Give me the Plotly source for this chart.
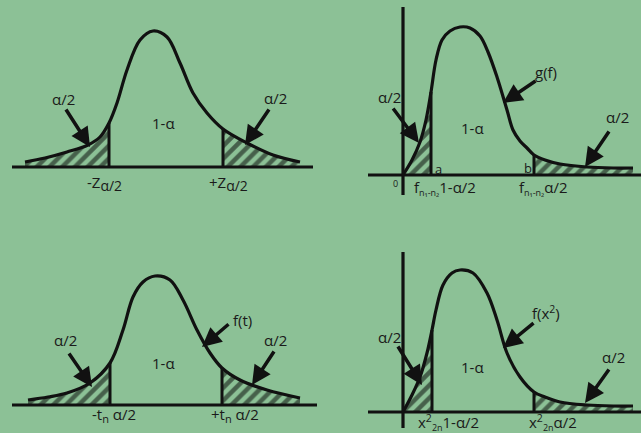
import plotly.graph_objects as go

BG = "#8cc196"
INK = "#111111"

# curves (x, y in picture units, y grows downward)
z_x = [25, 45, 67, 88, 100, 109, 117, 127, 140, 153, 167, 180, 193, 207, 223, 247, 273, 300]
z_y = [162, 158, 152, 145, 137, 123, 103, 70, 40, 31, 37, 63, 93, 113, 129, 143, 155, 162]
z_cut = [109, 223]
z_base = 167

t_x = [28, 48, 67, 90, 110, 123, 133, 143, 155, 170, 183, 197, 210, 222, 240, 267, 300]
t_y = [400, 397, 393, 383, 363, 330, 297, 282, 276, 280, 300, 330, 353, 368, 380, 390, 398]
t_cut = [110, 222]
t_base = 405

f_x = [403, 412, 420, 426, 431, 436, 442, 450, 460, 470, 480, 488, 497, 507, 513, 520, 527, 534, 545, 560, 587, 613, 633]
f_y = [175, 160, 142, 120, 92, 60, 40, 31, 27, 28, 36, 52, 77, 110, 130, 141, 148, 155, 160, 164, 167, 168, 168]
f_cut = [431, 534]
f_base = 175

c_x = [403, 412, 420, 427, 432, 436, 443, 452, 460, 473, 487, 497, 507, 520, 534, 545, 560, 587, 613, 633]
c_y = [412, 395, 377, 353, 330, 310, 285, 273, 270, 273, 293, 320, 353, 377, 392, 397, 402, 405, 406, 406]
c_cut = [432, 534]
c_base = 412

panels = [
    (z_x, z_y, z_cut, z_base, [12, 313], None),
    (t_x, t_y, t_cut, t_base, [12, 317], None),
    (f_x, f_y, f_cut, f_base, [368, 641], [7, 195]),
    (c_x, c_y, c_cut, c_base, [368, 641], [252, 428]),
]

fig = go.Figure()

for xs, ys, cut, base, bx, vy in panels:
    # hatched tails
    left = [(x, y) for x, y in zip(xs, ys) if x <= cut[0]]
    right = [(x, y) for x, y in zip(xs, ys) if x >= cut[1]]
    for pts in (left, right):
        px = [p[0] for p in pts]
        py = [p[1] for p in pts]
        fig.add_trace(go.Scatter(
            x=px + [px[-1], px[0], px[0]], y=py + [base, base, py[0]],
            mode="lines", line=dict(width=0), fill="toself", fillcolor=BG,
            fillpattern=dict(shape="/", fgcolor="#000000", bgcolor=BG, size=9, solidity=0.5),
            hoverinfo="skip", showlegend=False))
    # curve
    fig.add_trace(go.Scatter(x=xs, y=ys, mode="lines", line=dict(color=INK, width=3.2, shape="spline"),
                             hoverinfo="skip", showlegend=False))
    # cut lines
    for c in cut:
        cy = ys[xs.index(c)]
        fig.add_trace(go.Scatter(x=[c, c], y=[cy, base], mode="lines", line=dict(color=INK, width=3),
                                 hoverinfo="skip", showlegend=False))
    # baseline and vertical axis
    fig.add_trace(go.Scatter(x=bx, y=[base, base], mode="lines", line=dict(color=INK, width=3.2),
                             hoverinfo="skip", showlegend=False))
    if vy:
        fig.add_trace(go.Scatter(x=[xs[0], xs[0]], y=vy, mode="lines", line=dict(color=INK, width=3.2),
                                 hoverinfo="skip", showlegend=False))

# arrows: (head x, head y, tail x, tail y)
arrows = [
    (90, 147, 65, 108), (245, 145, 270, 108),
    (92, 387, 68, 352), (252, 385, 275, 350), (202, 347, 230, 323),
    (419, 143, 392, 107), (503, 103, 537, 80), (585, 167, 610, 130),
    (422, 385, 397, 345), (503, 348, 535, 322), (585, 403, 610, 368),
]
for hx, hy, tx, ty in arrows:
    fig.add_annotation(x=hx, y=hy, ax=tx, ay=ty, xref="x", yref="y", axref="x", ayref="y",
                       text="", showarrow=True, arrowhead=2, arrowsize=1.1, arrowwidth=3.5,
                       arrowcolor=INK)


def sub(s, size=13):
    return '<sub><span style="font-size:%dpx">%s</span></sub>' % (size, s)


# labels: (x, y, text, size)
labels = [
    (63, 99, "α/2", 15), (275, 98, "α/2", 15), (163, 123, "1-α", 15),
    (104, 183, "-Z" + sub("α/2", 14), 15), (228, 183, "+Z" + sub("α/2", 14), 15),
    (65, 340, "α/2", 15), (275, 340, "α/2", 15), (163, 363, "1-α", 15),
    (242, 320, "f(t)", 15),
    (114, 415, "-t" + sub("n", 11) + " α/2", 15), (235, 415, "+t" + sub("n", 11) + " α/2", 15),
    (389, 97, "α/2", 15), (546, 72, "g(f)", 15), (472, 128, "1-α", 15), (617, 117, "α/2", 15),
    (438, 169, "a", 13), (528, 168, "b", 13), (395, 183, "0", 9),
    (445, 188, "f" + sub("n₁-n₂", 9) + "1-α/2", 15), (543, 188, "f" + sub("n₁-n₂", 9) + "α/2", 15),
    (389, 337, "α/2", 15), (546, 312, "f(x<sup>2</sup>)", 15), (472, 367, "1-α", 15), (613, 357, "α/2", 15),
    (448, 422, "x<sup>2</sup>" + sub("2n", 9) + "1-α/2", 15), (553, 422, "x<sup>2</sup>" + sub("2n", 9) + "α/2", 15),
]
for x, y, s, size in labels:
    fig.add_annotation(x=x, y=y, xref="x", yref="y", text=s, showarrow=False,
                       font=dict(family="Open Sans", size=size, color="#1a1a1a"))

fig.update_xaxes(range=[0, 641], visible=False, fixedrange=True)
fig.update_yaxes(range=[433, 0], visible=False, fixedrange=True)
fig.update_layout(width=641, height=433, margin=dict(l=0, r=0, t=0, b=0),
                  paper_bgcolor=BG, plot_bgcolor=BG, showlegend=False)

# page body has a default margin, drop it so the figure fills the window
fig.write_html("out.html", config={"displayModeBar": False},
               post_script="document.body.style.margin='0';document.body.style.overflow='hidden';")
